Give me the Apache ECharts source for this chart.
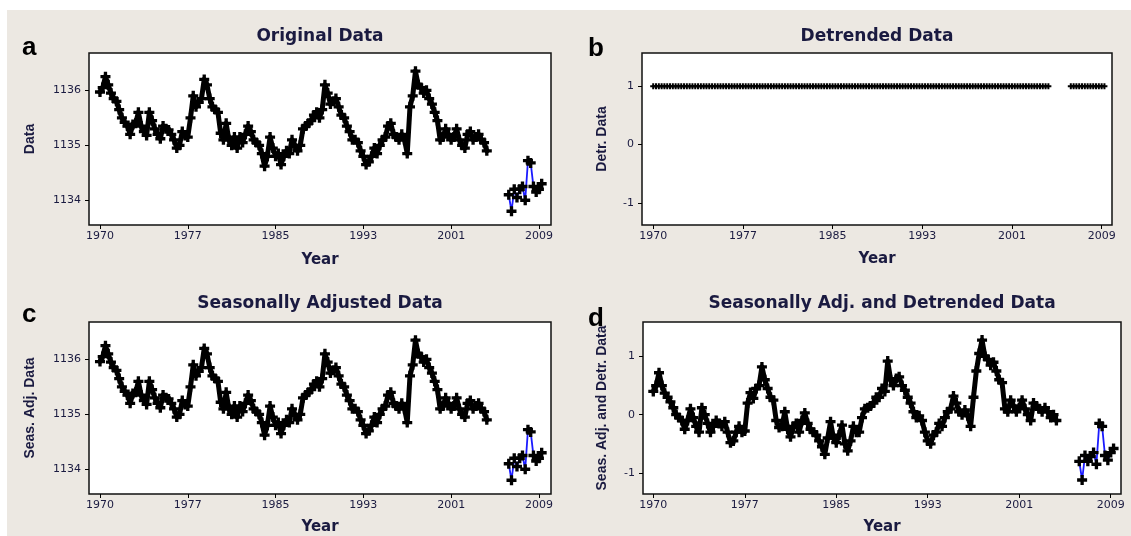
<!DOCTYPE html>
<html><head><meta charset="utf-8">
<script src="https://cdn.jsdelivr.net/npm/echarts@6/dist/echarts.min.js"></script>
<style>
html,body{margin:0;padding:0;background:#ffffff;}
#wrap{position:relative;width:1131px;height:536px;overflow:hidden;}
#bg{position:absolute;left:7px;top:10px;right:0;bottom:0;background:#ece8e2;}
#chart{position:absolute;left:0;top:0;width:1131px;height:536px;}
</style>
</head><body>
<div id="wrap"><div id="bg"></div><div id="chart"></div></div>
<script>
// x positions are observation indices; tick labels show the year of that index
const tickIndex = [0, 32, 64, 96, 128, 160];
const tickYears = ['1970', '1977', '1985', '1993', '2001', '2009'];
const levelTicks = [1134, 1135, 1136];
const detrTicks = [-1, 0, 1];
const tailStart = 149; // first observation after the data gap

const originalValues = [
  1135.97, 1136.05, 1136.25, 1136.1, 1135.95, 1135.85, 1135.8, 1135.65, 1135.5, 1135.42,
  1135.35, 1135.2, 1135.38, 1135.4, 1135.6, 1135.35, 1135.25, 1135.18, 1135.6, 1135.45,
  1135.3, 1135.2, 1135.12, 1135.35, 1135.3, 1135.28, 1135.2, 1135.1, 1134.95, 1135.0,
  1135.25, 1135.18, 1135.15, 1135.5, 1135.9, 1135.7, 1135.78, 1135.85, 1136.2, 1136.1,
  1135.85, 1135.7, 1135.65, 1135.6, 1135.22, 1135.1, 1135.4, 1135.1, 1135.0, 1135.15,
  1134.95, 1135.15, 1135.05, 1135.2, 1135.35, 1135.25, 1135.1, 1135.05, 1135.0, 1134.85,
  1134.62, 1134.8, 1135.15, 1134.95, 1134.8, 1134.85, 1134.65, 1134.8, 1134.9, 1134.85,
  1135.1, 1135.0, 1134.9, 1135.0, 1135.3, 1135.35, 1135.4, 1135.45, 1135.55, 1135.6,
  1135.5, 1135.65, 1136.1, 1135.95, 1135.75, 1135.8, 1135.85, 1135.7, 1135.55, 1135.5,
  1135.35, 1135.25, 1135.1, 1135.1, 1135.05, 1134.9, 1134.8, 1134.65, 1134.7, 1134.8,
  1134.95, 1134.85, 1135.0, 1135.1, 1135.15, 1135.35, 1135.4, 1135.2, 1135.15, 1135.1,
  1135.2, 1135.1, 1134.85, 1135.7, 1135.9, 1136.35, 1136.1, 1136.05, 1135.95, 1136.0,
  1135.85, 1135.75, 1135.6, 1135.45, 1135.1, 1135.15, 1135.3, 1135.2, 1135.1, 1135.15,
  1135.3, 1135.1, 1135.0, 1134.95, 1135.2, 1135.25, 1135.1, 1135.15, 1135.2, 1135.1,
  1135.05, 1134.9,
  null, null, null, null, null, null, null,
  1134.1, 1133.8, 1134.2, 1134.05, 1134.2, 1134.25, 1134.0, 1134.72, 1134.68, 1134.25,
  1134.15, 1134.2, 1134.3
];

const detrendedValues = [
  1, 1, 1, 1, 1, 1, 1, 1, 1, 1, 1, 1, 1, 1, 1, 1, 1, 1, 1, 1,
  1, 1, 1, 1, 1, 1, 1, 1, 1, 1, 1, 1, 1, 1, 1, 1, 1, 1, 1, 1,
  1, 1, 1, 1, 1, 1, 1, 1, 1, 1, 1, 1, 1, 1, 1, 1, 1, 1, 1, 1,
  1, 1, 1, 1, 1, 1, 1, 1, 1, 1, 1, 1, 1, 1, 1, 1, 1, 1, 1, 1,
  1, 1, 1, 1, 1, 1, 1, 1, 1, 1, 1, 1, 1, 1, 1, 1, 1, 1, 1, 1,
  1, 1, 1, 1, 1, 1, 1, 1, 1, 1, 1, 1, 1, 1, 1, 1, 1, 1, 1, 1,
  1, 1, 1, 1, 1, 1, 1, 1, 1, 1, 1, 1, 1, 1, 1, 1, 1, 1, 1, 1,
  1, 1,
  null, null, null, null, null, null, null,
  1, 1, 1, 1, 1, 1, 1, 1, 1, 1, 1, 1, 1
];

const seasAdjValues = [
  1135.96, 1136.05, 1136.25, 1136.1, 1135.95, 1135.85, 1135.8, 1135.65, 1135.5, 1135.42,
  1135.35, 1135.2, 1135.38, 1135.4, 1135.6, 1135.35, 1135.25, 1135.18, 1135.6, 1135.45,
  1135.3, 1135.2, 1135.12, 1135.35, 1135.3, 1135.28, 1135.2, 1135.1, 1134.95, 1135.0,
  1135.25, 1135.18, 1135.15, 1135.5, 1135.9, 1135.7, 1135.78, 1135.85, 1136.2, 1136.1,
  1135.85, 1135.7, 1135.65, 1135.6, 1135.22, 1135.1, 1135.4, 1135.1, 1135.0, 1135.15,
  1134.95, 1135.15, 1135.05, 1135.2, 1135.35, 1135.25, 1135.1, 1135.05, 1135.0, 1134.85,
  1134.62, 1134.8, 1135.15, 1134.95, 1134.8, 1134.85, 1134.65, 1134.8, 1134.9, 1134.85,
  1135.1, 1135.0, 1134.9, 1135.0, 1135.3, 1135.35, 1135.4, 1135.45, 1135.55, 1135.6,
  1135.5, 1135.65, 1136.1, 1135.95, 1135.75, 1135.8, 1135.85, 1135.7, 1135.55, 1135.5,
  1135.35, 1135.25, 1135.1, 1135.1, 1135.05, 1134.9, 1134.8, 1134.65, 1134.7, 1134.8,
  1134.95, 1134.85, 1135.0, 1135.1, 1135.15, 1135.35, 1135.4, 1135.2, 1135.15, 1135.1,
  1135.2, 1135.1, 1134.85, 1135.7, 1135.9, 1136.35, 1136.1, 1136.05, 1135.95, 1136.0,
  1135.85, 1135.75, 1135.6, 1135.45, 1135.1, 1135.15, 1135.3, 1135.2, 1135.1, 1135.15,
  1135.3, 1135.1, 1135.0, 1134.95, 1135.2, 1135.25, 1135.1, 1135.15, 1135.2, 1135.1,
  1135.05, 1134.9,
  null, null, null, null, null, null, null,
  1134.1, 1133.8, 1134.2, 1134.05, 1134.2, 1134.25, 1134.0, 1134.72, 1134.68, 1134.25,
  1134.15, 1134.2, 1134.3
];

const seasAdjDetrValues = [
  0.4, 0.5, 0.72, 0.5, 0.37, 0.3, 0.22, 0.12, 0.0, -0.05,
  -0.1, -0.25, -0.1, 0.1, -0.05, -0.2, -0.3, 0.12, 0.0, -0.15,
  -0.3, -0.2, -0.1, -0.15, -0.2, -0.12, -0.3, -0.48, -0.45, -0.3,
  -0.2, -0.3, -0.28, 0.2, 0.38, 0.28, 0.45, 0.5, 0.82, 0.6,
  0.45, 0.3, 0.25, -0.1, -0.22, -0.2, 0.05, -0.25, -0.38, -0.2,
  -0.15, -0.3, -0.1, 0.03, -0.15, -0.25, -0.3, -0.35, -0.45, -0.55,
  -0.68, -0.4, -0.12, -0.4, -0.48, -0.35, -0.18, -0.5, -0.62, -0.45,
  -0.2, -0.3, -0.3, -0.05, 0.1, 0.12, 0.15, 0.2, 0.3, 0.3,
  0.45, 0.4, 0.92, 0.6, 0.5, 0.62, 0.65, 0.5, 0.42, 0.3,
  0.2, 0.05, -0.05, -0.02, -0.1, -0.3, -0.45, -0.5, -0.35, -0.3,
  -0.15, -0.2, -0.05, 0.05, 0.1, 0.32, 0.2, 0.05, 0.0, 0.08,
  -0.02, -0.2, 0.3, 0.75, 1.05, 1.28, 1.0, 0.95, 0.85, 0.9,
  0.75, 0.6, 0.55, 0.1, 0.05, 0.25, 0.15, 0.05, 0.12, 0.25,
  0.1, 0.0, -0.1, 0.2, 0.15, 0.1, 0.05, 0.12, 0.05, -0.05,
  0.0, -0.1,
  null, null, null, null, null, null, null,
  -0.8, -1.12, -0.7, -0.8, -0.72, -0.65, -0.85, -0.15, -0.2, -0.7,
  -0.78, -0.65, -0.58
];

const TXT = '#1a1a40';
const PLUS = 'path://M3,0H6V3H9V6H6V9H3V6H0V3H3Z';

const grids = [], xAxes = [], yAxes = [], series = [];

function addPanel(p) {
  const gi = grids.length;
  grids.push({left: p.left, top: p.top, width: p.width, height: 172, show: true,
    backgroundColor: '#ffffff', borderColor: '#111111', borderWidth: 1.5, containLabel: false});
  xAxes.push({
    gridIndex: gi, type: 'value', min: p.xMin, max: p.xMax, position: 'bottom',
    axisLine: {show: false, onZero: false},
    axisTick: {show: true, inside: false, customValues: tickIndex, length: 4, lineStyle: {color: '#000', width: 1}},
    axisLabel: {customValues: tickIndex, formatter: v => tickYears[tickIndex.indexOf(v)],
      fontSize: 11, fontFamily: 'DejaVu Sans', color: TXT, margin: 6},
    splitLine: {show: false},
    name: 'Year', nameLocation: 'middle', nameGap: p.xGap,
    nameTextStyle: {fontFamily: 'DejaVu Sans', fontWeight: 'bold', fontSize: 15, color: TXT}
  });
  yAxes.push({
    gridIndex: gi, type: 'value', min: p.yMin, max: p.yMax, position: 'left',
    axisLine: {show: false, onZero: false},
    axisTick: {show: true, inside: false, customValues: p.yTicks, length: 4, lineStyle: {color: '#000', width: 1}},
    axisLabel: {customValues: p.yTicks, formatter: v => String(v),
      fontSize: 11, fontFamily: 'DejaVu Sans', color: TXT, margin: 8},
    splitLine: {show: false},
    name: p.yName, nameLocation: 'middle', nameGap: p.yGap,
    nameTextStyle: {fontFamily: 'Liberation Sans', fontWeight: 'bold', fontSize: 14, color: TXT}
  });
  const vals = p.values;
  series.push({
    type: 'line', xAxisIndex: gi, yAxisIndex: gi, symbol: 'none', silent: true, z: 2,
    data: vals.map((v, i) => [i, i < tailStart ? v : null]),
    lineStyle: {color: '#000', width: p.mainWidth, join: 'round', cap: 'round'}
  });
  series.push({
    type: 'line', xAxisIndex: gi, yAxisIndex: gi, symbol: 'none', silent: true, z: 2,
    data: vals.map((v, i) => [i, i >= tailStart ? v : null]),
    lineStyle: {color: p.tailColor, width: p.tailWidth}
  });
  series.push({
    type: 'scatter', xAxisIndex: gi, yAxisIndex: gi, silent: true, z: 3,
    symbol: PLUS, symbolSize: p.sym,
    data: vals.map((v, i) => [i, v]).filter(d => d[1] !== null),
    itemStyle: {color: '#000', opacity: 1}
  });
}

addPanel({left: 89, top: 53, width: 462, xMin: -4, xMax: 164.4, yMin: 1133.55, yMax: 1136.68,
  yTicks: levelTicks, yName: 'Data', yGap: 52, xGap: 28, values: originalValues,
  mainWidth: 5, tailColor: '#1a1aff', tailWidth: 1.8, sym: 10});
addPanel({left: 642, top: 53, width: 470, xMin: -4, xMax: 163.7, yMin: -1.38, yMax: 1.57,
  yTicks: detrTicks, yName: 'Detr. Data', yGap: 33, xGap: 27, values: detrendedValues,
  mainWidth: 2, tailColor: '#000', tailWidth: 2, sym: 6});
addPanel({left: 89, top: 322, width: 462, xMin: -4, xMax: 164.4, yMin: 1133.55, yMax: 1136.68,
  yTicks: levelTicks, yName: 'Seas. Adj. Data', yGap: 52, xGap: 26, values: seasAdjValues,
  mainWidth: 5, tailColor: '#1a1aff', tailWidth: 1.8, sym: 10});
addPanel({left: 643, top: 322, width: 478, xMin: -3.6, xMax: 163.6, yMin: -1.36, yMax: 1.59,
  yTicks: detrTicks, yName: 'Seas. Adj. and Detr. Data', yGap: 34, xGap: 26, values: seasAdjDetrValues,
  mainWidth: 5, tailColor: '#1a1aff', tailWidth: 1.8, sym: 10});

function txt(text, x, y, font, fill, align, valign) {
  return {type: 'text', x: x, y: y, silent: true, z: 10,
    style: {text: text, font: font, fill: fill, align: align, verticalAlign: valign}};
}
const TITLE_FONT = 'bold 17px "DejaVu Sans"';
const LETTER_FONT = 'bold 26px "Liberation Sans"';

const graphics = [
  txt('Original Data', 320, 37, TITLE_FONT, TXT, 'center', 'middle'),
  txt('Detrended Data', 877, 37, TITLE_FONT, TXT, 'center', 'middle'),
  txt('Seasonally Adjusted Data', 320, 304, TITLE_FONT, TXT, 'center', 'middle'),
  txt('Seasonally Adj. and Detrended Data', 882, 304, TITLE_FONT, TXT, 'center', 'middle'),
  txt('a', 22, 35, LETTER_FONT, '#000', 'left', 'alphabetic'),
  txt('b', 588, 36, LETTER_FONT, '#000', 'left', 'alphabetic'),
  txt('c', 22, 302, LETTER_FONT, '#000', 'left', 'alphabetic'),
  txt('d', 588, 306, LETTER_FONT, '#000', 'left', 'alphabetic')
];

const chart = echarts.init(document.getElementById('chart'), null, {renderer: 'canvas'});
chart.setOption({
  backgroundColor: 'transparent',
  animation: false,
  grid: grids, xAxis: xAxes, yAxis: yAxes, series: series,
  graphic: graphics
});
</script>
</body></html>
